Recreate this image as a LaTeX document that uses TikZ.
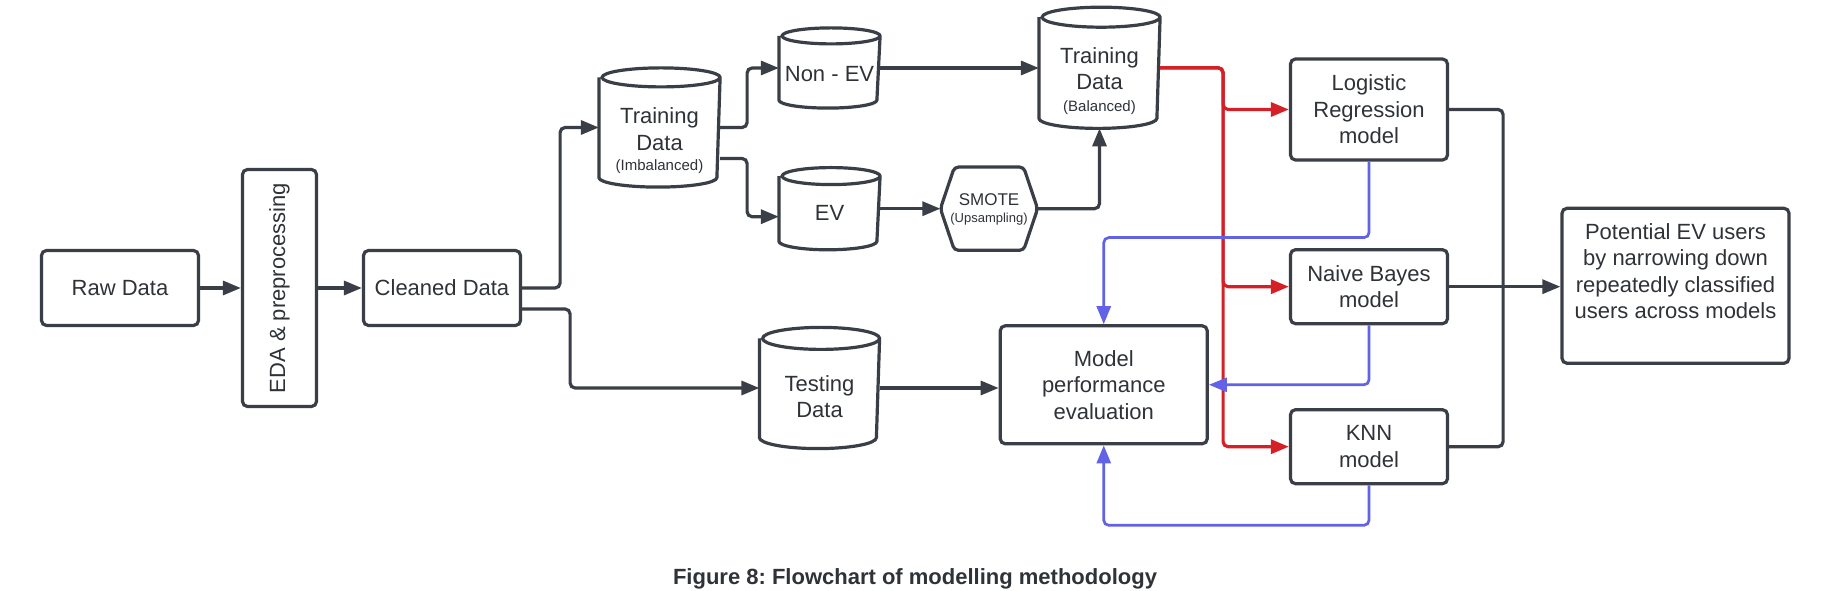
\documentclass[tikz,border=0pt]{standalone}
\usepackage{fontspec}
\setmainfont{Liberation Sans}
\usepackage{graphicx}
\usetikzlibrary{arrows.meta,calc}
\definecolor{lc}{HTML}{3A3F47}
\definecolor{tc}{HTML}{2F3338}
\definecolor{rc}{HTML}{D62027}
\definecolor{bc}{HTML}{6262E6}
\newcommand\mainfs{\fontsize{22}{26.5}\selectfont}
\newcommand\cylout[3]{%
  \draw[ln] ([yshift=-#3]#1.north west) -- ([yshift=#3]#1.south west)
    arc[start angle=180,end angle=360,x radius=#2,y radius=#3]
    -- ([yshift=-#3]#1.north east)
    arc[start angle=0,end angle=360,x radius=#2,y radius=#3];}
\frenchspacing
\begin{document}
\begin{tikzpicture}[x=1pt,y=1pt,
  ln/.style={draw=lc,line width=3.2pt},
  box/.style={rectangle,draw=lc,line width=3.2pt,rounded corners=5pt,inner sep=0pt,text=tc,font=\mainfs,align=center},
  shp/.style={rectangle,inner sep=0pt,outer sep=1.6pt},
  lbl/.style={inner sep=0pt,text=tc,font=\mainfs,align=center},
  arr/.style={draw=lc,line width=3.2pt,rounded corners=5pt,-{Triangle[length=18pt,width=14pt]}},
  rarr/.style={draw=rc,line width=3.2pt,rounded corners=5pt,-{Triangle[length=18pt,width=14pt]}},
  barr/.style={draw=bc,line width=2.7pt,rounded corners=5pt,-{Triangle[length=18pt,width=14pt]}},
]
\useasboundingbox (0,0) rectangle (1831,591);
\fill[white] (0,0) rectangle (1831,591);

% boxes
\node[box,minimum width=157,minimum height=75] (raw) at (120,303) {Raw Data};
\node[box,minimum width=74,minimum height=237] (eda) at (279.5,303) {\rotatebox{90}{EDA \& preprocessing}};
\node[box,minimum width=157,minimum height=75] (clean) at (442,303) {Cleaned Data};

% cylinders
\node[shp,minimum width=118,minimum height=116] (ti) at (659.5,463.5) {};
\cylout{ti}{59}{9.5}
\node[lbl] (tiL) at (659.5,450.3) {Training\\Data\\[-6pt]{\fontsize{15}{18}\selectfont (Imbalanced)}};

\node[shp,minimum width=98,minimum height=77] (nonev) at (829.5,523) {};
\cylout{nonev}{49}{8}
\node[lbl] (nonevL) at (829.5,517) {Non - EV};

\node[shp,minimum width=98,minimum height=79] (ev) at (829.5,382.3) {};
\cylout{ev}{49}{8.5}
\node[lbl] (evL) at (829.5,377.7) {EV};

\node[shp,minimum width=94,minimum height=80] (smote) at (989,382.3) {};
\draw[ln,rounded corners=4pt] (smote.west) -- ([xshift=14]smote.north west) -- ([xshift=-14]smote.north east)
  -- (smote.east) -- ([xshift=-14]smote.south east) -- ([xshift=14]smote.south west) -- cycle;
\node[lbl,font=\fontsize{17}{17.6}\selectfont] (smoteL) at (989,381.5) {SMOTE\\{\fontsize{13}{15.6}\selectfont (Upsampling)}};

\node[shp,minimum width=118,minimum height=118] (tb) at (1099.5,523.2) {};
\cylout{tb}{59}{10}
\node[lbl] (tbL) at (1099.5,509.7) {Training\\[-0.8pt]Data\\[-4.7pt]{\fontsize{15}{18}\selectfont (Balanced)}};

\node[shp,minimum width=117,minimum height=118] (test) at (819.5,203) {};
\cylout{test}{58.5}{11}
\node[lbl] (testL) at (819.5,194) {Testing\\[-0.5pt]Data};

\node[box,minimum width=207,minimum height=118] (model) at (1103.75,206.2) {Model\\performance\\evaluation};
\node[box,minimum width=157,minimum height=101] (lr) at (1369,481.5) {Logistic\\Regression\\model};
\node[box,minimum width=157,minimum height=74] (nb) at (1369,304.3) {Naive Bayes\\model};
\node[box,minimum width=157,minimum height=74] (knn) at (1369,144.3) {KNN\\model};
\node[box,minimum width=227,minimum height=155] (pot) at (1675.5,305.2) {Potential EV users\\by narrowing down\\repeatedly classified\\users across models\\[3pt]};

% caption
\node[inner sep=0pt,text=tc,font=\bfseries\fontsize{22}{26}\selectfont] (cap) at (915,12) {Figure 8: Flowchart of modelling methodology};

% connectors
\draw[arr] (raw) -- (eda);
\draw[arr] (eda) -- (clean);
\draw[arr] (clean.east) -- ++(38,0) |- (ti.west);
\draw[arr] ([yshift=-21]clean.east) -- ++(48,0) |- (test.west);
\draw[arr] (ti.east) -- ++(27,0) |- (nonev.west);
\draw[arr] ([yshift=-31]ti.east) -- ++(27,0) |- ([yshift=-8]ev.west);
\draw[arr] (ev.east) -- (smote.west);
\draw[arr] (nonev.east) -- (nonev.east -| tb.west);
\draw[arr] (smote.east) -| (tb.south);
\draw[arr] (test.east) -- (test.east -| model.west);

\draw[rarr] (tb.east) -- ++(63,0) |- (lr.west);
\draw[rarr] (tb.east) -- ++(63,0) |- (nb.west);
\draw[rarr] (tb.east) -- ++(63,0) |- (knn.west);

\coordinate (bj) at ($(nb.east)+(54,0)$);
\draw[ln,rounded corners=5pt] (lr.east) -| (bj);
\draw[ln,rounded corners=5pt] (knn.east) -| (bj);
\draw[arr] (nb.east) -- (nb.east -| pot.west);

\draw[barr] (lr.south) -- ++(0,-76) -| (model.north);
\draw[barr] (nb.south) |- (model.east);
\draw[barr] (knn.south) -- ++(0,-40) -| (model.south);
\end{tikzpicture}
\end{document}
